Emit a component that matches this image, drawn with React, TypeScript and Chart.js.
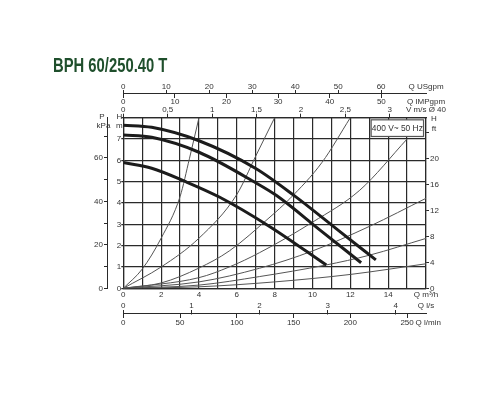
import { useEffect, useRef } from 'react';
import { Chart, registerables } from 'chart.js';

Chart.register(...registerables);

// pump curves: Q in m³/h, H in m
const pumpHighQ = [0, 1.5, 4, 7, 9, 11.25, 13.35];
const pumpHighH = [7.65, 7.55, 6.92, 5.62, 4.37, 2.8, 1.33];
const pumpMidQ = [0, 1.5, 4, 7, 8.1, 10.4, 12.57];
const pumpMidH = [7.19, 7.08, 6.38, 4.95, 4.35, 2.73, 1.2];
const pumpLowQ = [0, 1.5, 3.3, 5.1, 7.75, 10.73];
const pumpLowH = [5.9, 5.63, 5.0, 4.27, 2.89, 1.09];

// thin system curves, steepest first
const sysAQ = [0, 1, 2, 3, 3.5, 4];
const sysAH = [0, 0.9, 2.35, 4.3, 6.1, 8];
const sysBQ = [0, 2, 4, 6, 7, 8];
const sysBH = [0, 1.0, 2.35, 4.4, 6.2, 8];
const sysCQ = [0, 2, 4, 5.6, 7.7, 8.8, 10.5, 12];
const sysCH = [0, 0.25, 0.95, 1.75, 3.3, 4.2, 5.9, 8];
const sysDQ = [0, 4, 5.6, 7.2, 10, 12.5, 15];
const sysDH = [0, 0.5, 1.0, 1.67, 3.1, 4.6, 7.0];
const sysEQ = [0, 4, 7.2, 10, 13, 16];
const sysEH = [0, 0.3, 0.94, 1.75, 2.9, 4.22];
const sysFQ = [0, 4, 7.2, 10.7, 13, 16];
const sysFH = [0, 0.15, 0.55, 1.09, 1.55, 2.34];
const sysGQ = [0, 4, 8, 12, 16];
const sysGH = [0, 0.07, 0.3, 0.65, 1.15];

// axis ticks
const flowTicks = [0, 1, 2, 3, 4, 5, 6, 7, 8, 9, 10, 11, 12, 13, 14, 15, 16];
const flowLabels = ['0', '', '2', '', '4', '', '6', '', '8', '', '10', '', '12', '', '14', '', 'Q m³/h'];
const headTicks = [0, 1, 2, 3, 4, 5, 6, 7, 8];
const headLabels = ['0', '1', '2', '3', '4', '5', '6', '7', ''];
const kpaTicks = [0, 10, 20, 30, 40, 50, 60, 70];
const kpaLabels = ['0', '', '20', '', '40', '', '60', ''];
const ftTicks = [0, 4, 8, 12, 16, 20, 24];
const ftLabels = ['0', '4', '8', '12', '16', '20', ''];
const usgpmTicks = [0, 10, 20, 30, 40, 50, 60];
const impTicks = [0, 10, 20, 30, 40, 50];
const velTicks = [0, 0.5, 1, 1.5, 2, 2.5, 3];
const velLabels = ['0', '0,5', '1', '1,5', '2', '2,5', '3'];
const lsTicks = [0, 1, 2, 3, 4];
const lminTicks = [0, 50, 100, 150, 200, 250];

// rating box corners in Q / H
const boxFlow = [13.1, 15.87];
const boxHead = [7.9, 7.12];

const flowMax = 16;
const headMax = 8;
const usgpmPerM3h = 4.403;
const impPerM3h = 3.666;
const lsPerM3h = 1 / 3.6;
const lminPerM3h = 1000 / 60;
const velPerM3h = 1 / 4.694;
const kpaPerM = 9.81;
const ftPerM = 3.281;

const ink = '#2a2a2a';
const textColor = '#333';
const fontFamily = '"Liberation Sans", Arial, sans-serif';
const tickFont = { family: fontFamily, size: 8 };

const pts = (q: number[], h: number[]) => q.map((x, i) => ({ x, y: h[i] }));

const fix = (w: number | null, h: number | null) => (s: any) => {
  if (w !== null) s.width = w;
  if (h !== null) s.height = h;
  s.paddingLeft = 0;
  s.paddingRight = 0;
  s.paddingTop = 0;
  s.paddingBottom = 0;
};

// secondary flow scale, laid on the sheet at a head value outside the grid
function flowScale(factor: number, ticks: number[], labels: string[], title: string,
  at: number, tickLength: number, padding: number, border: boolean) {
  const max = flowMax * factor;
  return {
    type: 'linear',
    axis: 'x',
    position: { y: at },
    min: 0,
    max,
    afterBuildTicks: (s: any) => { s.ticks = [...ticks, max].map((v) => ({ value: v })); },
    afterFit: fix(null, 0),
    grid: {
      drawOnChartArea: false,
      tickLength,
      lineWidth: 1,
      tickColor: (c: any) => (c.index === ticks.length ? 'rgba(0,0,0,0)' : ink),
    },
    border: { display: border, color: ink, width: 1 },
    ticks: {
      autoSkip: false, maxRotation: 0, padding, color: textColor, font: tickFont,
      callback: (_v: any, i: number) => (i < ticks.length ? labels[i] : title),
    },
  };
}

const annotations = {
  id: 'annotations',
  afterDraw(chart: any) {
    const { ctx, chartArea, scales } = chart;
    const t = chartArea.top;
    ctx.save();
    ctx.font = `8px ${fontFamily}`;
    ctx.fillStyle = textColor;
    ctx.textAlign = 'center';
    ctx.textBaseline = 'middle';
    ctx.fillText('P', scales.kpa.right - 5, t - 0.5);
    ctx.fillText('kPa', scales.kpa.right - 3.5, t + 8.5);
    ctx.fillText('H', chartArea.left - 4, t - 0.5);
    ctx.fillText('m', chartArea.left - 4, t + 8.5);
    ctx.fillText('H', chartArea.right + 8, t + 1.5);
    ctx.fillText('ft', chartArea.right + 8, t + 11.5);

    const x0 = scales.x.getPixelForValue(boxFlow[0]);
    const x1 = scales.x.getPixelForValue(boxFlow[1]);
    const y0 = scales.y.getPixelForValue(boxHead[0]);
    const y1 = scales.y.getPixelForValue(boxHead[1]);
    ctx.fillStyle = '#fff';
    ctx.fillRect(x0, y0, x1 - x0, y1 - y0);
    ctx.strokeStyle = '#555';
    ctx.lineWidth = 1.2;
    ctx.strokeRect(x0, y0, x1 - x0, y1 - y0);
    ctx.fillStyle = textColor;
    ctx.font = `8.4px ${fontFamily}`;
    ctx.fillText('400 V~ 50 Hz', (x0 + x1) / 2, (y0 + y1) / 2 + 0.5);
    ctx.restore();
  },
};

const PumpChart = () => {
  const canvasRef = useRef<HTMLCanvasElement>(null);

  useEffect(() => {
    if (!canvasRef.current) return;
    const thick = (q: number[], h: number[]) => ({
      data: pts(q, h), borderColor: '#1c1c1c', borderWidth: 3, pointRadius: 0, fill: false,
    });
    const thin = (q: number[], h: number[]) => ({
      data: pts(q, h), borderColor: '#555', borderWidth: 1, pointRadius: 0, fill: false,
    });

    const chart = new Chart(canvasRef.current, {
      type: 'line',
      data: {
        datasets: [
          thick(pumpHighQ, pumpHighH),
          thick(pumpMidQ, pumpMidH),
          thick(pumpLowQ, pumpLowH),
          thin(sysAQ, sysAH),
          thin(sysBQ, sysBH),
          thin(sysCQ, sysCH),
          thin(sysDQ, sysDH),
          thin(sysEQ, sysEH),
          thin(sysFQ, sysFH),
          thin(sysGQ, sysGH),
        ],
      },
      options: {
        animation: false,
        responsive: false,
        events: [],
        layout: { autoPadding: false, padding: { left: 80, right: 54, top: 97.7, bottom: 96.7 } },
        elements: { line: { cubicInterpolationMode: 'monotone' } },
        plugins: { legend: { display: false }, tooltip: { enabled: false } },
        scales: {
          x: {
            type: 'linear', position: 'bottom', min: 0, max: flowMax,
            afterBuildTicks: (s: any) => { s.ticks = flowTicks.map((v) => ({ value: v })); },
            afterFit: fix(null, 15),
            grid: { color: ink, lineWidth: 1.2, drawTicks: false },
            border: { color: ink, width: 1.2 },
            ticks: {
              autoSkip: false, maxRotation: 0, padding: 2, color: textColor, font: tickFont,
              callback: (_v: any, i: number) => flowLabels[i],
            },
          },
          y: {
            type: 'linear', position: 'left', min: 0, max: headMax, weight: 0,
            afterBuildTicks: (s: any) => { s.ticks = headTicks.map((v) => ({ value: v })); },
            afterFit: fix(16.3, null),
            grid: { color: ink, lineWidth: 1.2, tickLength: 2 },
            border: { color: ink, width: 1.2 },
            ticks: {
              autoSkip: false, padding: 0, color: textColor, font: tickFont,
              callback: (_v: any, i: number) => headLabels[i],
            },
          },
          kpa: {
            type: 'linear', axis: 'y', position: 'left', min: 0, max: headMax * kpaPerM, weight: 1,
            afterBuildTicks: (s: any) => { s.ticks = kpaTicks.map((v) => ({ value: v })); },
            afterFit: fix(27, null),
            grid: { drawOnChartArea: false, color: ink, tickLength: 3 },
            border: { color: ink, width: 1 },
            ticks: {
              autoSkip: false, padding: 1, color: textColor, font: tickFont,
              callback: (_v: any, i: number) => kpaLabels[i],
            },
          },
          ft: {
            type: 'linear', axis: 'y', position: 'right', min: 0, max: headMax * ftPerM,
            afterBuildTicks: (s: any) => { s.ticks = ftTicks.map((v) => ({ value: v })); },
            afterFit: fix(20, null),
            grid: { drawOnChartArea: false, color: ink, tickLength: 3 },
            border: { color: ink, width: 1.2 },
            ticks: {
              autoSkip: false, padding: 1, color: textColor, font: tickFont,
              callback: (_v: any, i: number) => ftLabels[i],
            },
          },
          vel: {
            type: 'linear', axis: 'x', position: 'top', min: 0, max: flowMax * velPerM3h,
            afterBuildTicks: (s: any) => {
              s.ticks = [...velTicks, flowMax * velPerM3h].map((v) => ({ value: v }));
            },
            afterFit: fix(null, 20),
            grid: {
              drawOnChartArea: false, tickLength: 4, lineWidth: 1,
              tickColor: (c: any) => (c.index === velTicks.length ? 'rgba(0,0,0,0)' : ink),
            },
            border: { color: ink, width: 1.2 },
            ticks: {
              autoSkip: false, maxRotation: 0, padding: -1, color: textColor, font: tickFont,
              callback: (_v: any, i: number) => (i < velTicks.length ? velLabels[i] : 'V m/s Ø 40'),
            },
          },
          usgpm: flowScale(usgpmPerM3h, usgpmTicks, usgpmTicks.map(String), 'Q USgpm', 9.315, 3.5, -10.8, false),
          imp: flowScale(impPerM3h, impTicks, impTicks.map(String), 'Q IMPgpm', 9.158, 4, 0, true),
          ls: flowScale(lsPerM3h, lsTicks, lsTicks.map(String), 'Q l/s', -0.995, 4.5, -12.8, false),
          lmin: flowScale(lminPerM3h, lminTicks, lminTicks.map(String), '  Q l/min', -1.205, 4, 0, true),
        } as any,
      },
      plugins: [annotations],
    } as any);
    return () => chart.destroy();
  }, []);

  return <canvas ref={canvasRef} width={500} height={400} style={{ display: 'block' }} />;
};

export default function App() {
  return (
    <div style={{ position: 'absolute', left: 0, top: 0, width: 500, height: 400, background: '#fff' }}>
      <PumpChart />
      <div
        style={{
          position: 'absolute', left: 53, top: 54, lineHeight: '20px', whiteSpace: 'nowrap',
          font: 'bold 20px "Liberation Sans", Arial, sans-serif',
          color: '#1f4f2c', transform: 'scaleX(0.74)', transformOrigin: '0 0',
        }}
      >
        BPH 60/250.40 T
      </div>
    </div>
  );
}
